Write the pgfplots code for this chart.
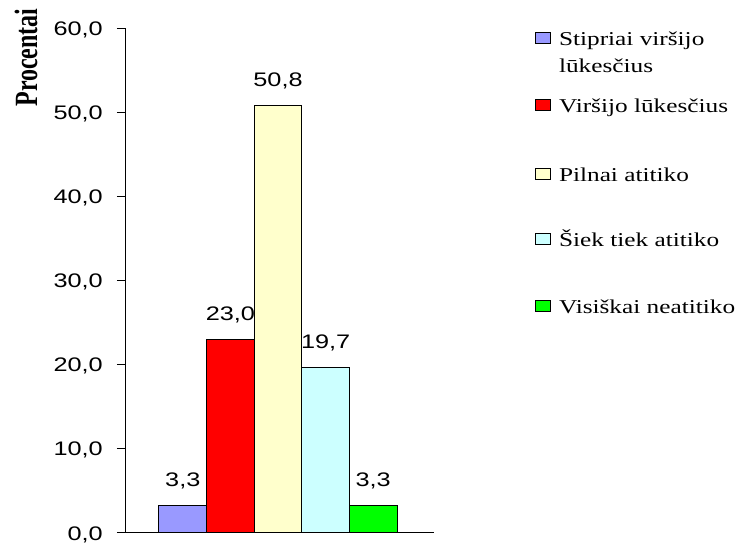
\documentclass[border=0pt]{standalone}
\usepackage{fontspec}
\usepackage{pgfplots}
\pgfplotsset{compat=1.18}
\newfontfamily\tickfont{Liberation Sans}[FakeStretch=1.29]
\newfontfamily\legfont{Liberation Serif}[FakeStretch=1.29]
\newfontfamily\labfont{Liberation Serif}
\definecolor{cA}{HTML}{9999FF}
\definecolor{cB}{HTML}{FF0000}
\definecolor{cC}{HTML}{FFFFCC}
\definecolor{cD}{HTML}{CCFFFF}
\definecolor{cE}{HTML}{00FF00}
\pgfplotsset{mybar/.style={ybar, bar width=1, bar shift=0pt, draw=black, line width=0.75pt,
  legend image code/.code={\draw[##1, line width=0.75pt] (0pt,1.5pt) rectangle (11.25pt,9.75pt);}}}
\begin{document}
\begin{tikzpicture}
\useasboundingbox (0,0) rectangle (555pt,407.25pt);
\begin{axis}[
  at={(94.5pt,7.5pt)}, anchor=south west,
  scale only axis, width=231pt, height=378.75pt,
  xmin=-1.193, xmax=5.277, ymin=0, ymax=60,
  ytick={0,10,...,60}, xtick=\empty,
  axis x line*=bottom, axis y line*=left,
  axis line style={-, line width=0.75pt, black},
  tick align=outside, major tick length=6.75pt,
  ytick style={line width=0.75pt, black},
  clip=false,
  /pgf/number format/.cd, fixed, fixed zerofill, precision=1, use comma, assume math mode=true,
  /pgfplots/.cd,
  yticklabel style={font=\tickfont\fontsize{14.7}{17}\selectfont, inner sep=0pt, anchor=base east, yshift=-5.26pt, xshift=-10.5pt},
  nodes near coords,
  every node near coord/.append style={font=\tickfont\fontsize{14.7}{17}\selectfont, anchor=base, inner sep=0pt, yshift=14.25pt},
  ylabel={\scalebox{1}[1.35]{\labfont\bfseries\fontsize{18}{20}\selectfont Procentai}},
  ylabel style={at={(axis description cs:-0.3247,0.9416)}, anchor=center, rotate=0},
  legend style={at={(axis description cs:1.32792,1.005941)}, anchor=north west, draw=none, fill=none,
    inner sep=0pt, outer sep=0pt, row sep=0pt, column sep=6pt,
    font=\legfont\fontsize{14.7}{17}\selectfont,
    cells={anchor=base west}, nodes={inner sep=0pt}},
]
\addplot[mybar, fill=cA] coordinates {(0,3.3)};
\addlegendentry[text height=15pt, text depth=5.25pt]{Stipriai viršijo}
\addlegendimage{empty legend}
\addlegendentry[text height=15pt, text depth=15pt]{lūkesčius}
\addplot[mybar, fill=cB] coordinates {(1,23.0)};
\addlegendentry[text height=15pt, text depth=36.75pt]{Viršijo lūkesčius}
\addplot[mybar, fill=cC] coordinates {(2,50.8)};
\addlegendentry[text height=15pt, text depth=33.75pt]{Pilnai atitiko}
\addplot[mybar, fill=cD] coordinates {(3,19.7)};
\addlegendentry[text height=15pt, text depth=35.25pt]{Šiek tiek atitiko}
\addplot[mybar, fill=cE] coordinates {(4,3.3)};
\addlegendentry[text height=15pt, text depth=0pt]{Visiškai neatitiko}
\end{axis}
\end{tikzpicture}
\end{document}
